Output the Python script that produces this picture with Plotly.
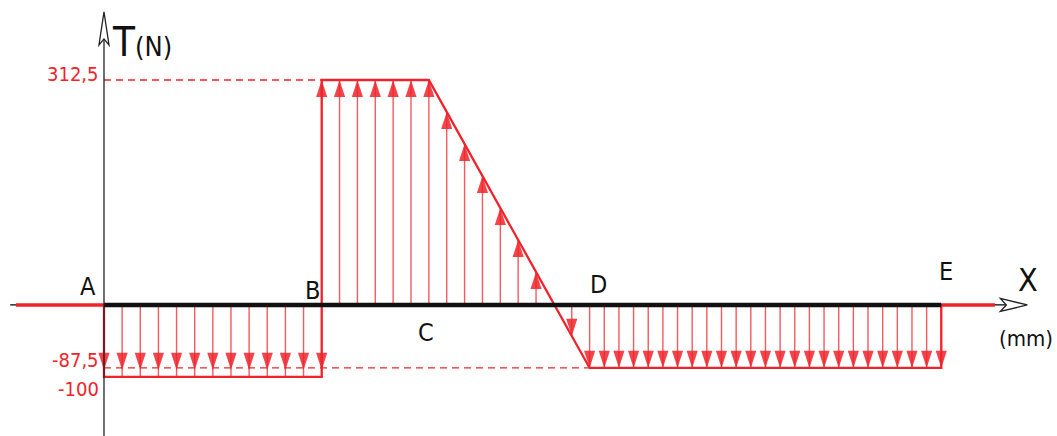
import numpy as np
import plotly.graph_objects as go

# stations along the beam (mm) and shear force T (N)
nodes = ["A", "B", "C", "D", "E"]
node_x = [0, 65, 97, 145, 250]
T_AB = -100
T_BC = 312.5
T_DE = -87.5

# value labels on the T axis
tick_vals = [312.5, -87.5, -100]
tick_text = ["312,5", "-87,5", "-100"]

# hatch arrows per section (ends included)
n_AB = 13
n_BC = 7
n_CD = 10
n_DE = 25

RED = "#f0232b"
FONT = "DejaVu Sans Condensed, Liberation Sans Narrow, sans-serif"

xA, xB, xC, xD, xE = node_x

# diagram outline
diag_x = [xA, xA, xB, xB, xC, xD, xE, xE]
diag_T = [0, T_AB, T_AB, T_BC, T_BC, T_DE, T_DE, 0]

# hatch arrows
ab_x = np.linspace(xA, xB, n_AB)
ab_T = np.full(n_AB, T_AB)
bc_x = np.linspace(xB, xC, n_BC)
bc_T = np.full(n_BC, T_BC)
cd_x = np.linspace(xC, xD, n_CD)[1:-1]
cd_T = np.interp(cd_x, [xC, xD], [T_BC, T_DE])
keep = np.abs(cd_T) > 20
cd_x, cd_T = cd_x[keep], cd_T[keep]
de_x = np.linspace(xD, xE, n_DE)
de_T = np.full(n_DE, T_DE)

arr_x = np.concatenate([ab_x, bc_x, cd_x, de_x])
arr_T = np.concatenate([ab_T, bc_T, cd_T, de_T])

shaft_x, shaft_y = [], []
for x, t in zip(arr_x, arr_T):
    shaft_x += [x, x, None]
    shaft_y += [0, t, None]

# axes extents (mm / N)
x_range = [-31.05, 284.55]
y_range = [-182.0, 423.6]
ax_left, red_left, red_right, x_tip = -28, -26.3, 266, 275.7
y_top = 407

fig = go.Figure()

# thin axis line
fig.add_trace(go.Scatter(x=[ax_left, x_tip - 3], y=[0, 0], mode="lines",
                         line=dict(color="black", width=1.2), hoverinfo="skip"))
# red extensions of the beam
for xs in ([red_left, xA], [xE, red_right]):
    fig.add_trace(go.Scatter(x=xs, y=[0, 0], mode="lines",
                             line=dict(color=RED, width=3.5), hoverinfo="skip"))

# dashed reference lines
fig.add_trace(go.Scatter(x=[xA, xB], y=[T_BC, T_BC], mode="lines",
                         line=dict(color=RED, width=1.3, dash="7px,5px"), hoverinfo="skip"))
fig.add_trace(go.Scatter(x=[xA, xD], y=[T_DE, T_DE], mode="lines",
                         line=dict(color=RED, width=1.3, dash="7px,5px"), hoverinfo="skip"))

# hatch shafts
fig.add_trace(go.Scatter(x=shaft_x, y=shaft_y, mode="lines",
                         line=dict(color="rgba(240,35,43,0.75)", width=1.4), hoverinfo="skip"))

# arrow heads
ang = np.where(arr_T > 0, 0, 180)
stand = np.concatenate([np.full(n_AB, 7), np.zeros(len(arr_x) - n_AB)])
fig.add_trace(go.Scatter(x=arr_x, y=arr_T, mode="markers",
                         marker=dict(symbol="arrow", size=18, angle=ang, standoff=stand,
                                     color="rgba(240,35,43,0.85)", line=dict(width=0)),
                         hoverinfo="skip"))

# diagram outline
fig.add_trace(go.Scatter(x=diag_x, y=diag_T, mode="lines",
                         line=dict(color=RED, width=2.3), hoverinfo="skip"))

# beam A-E
fig.add_trace(go.Scatter(x=[xA, xE], y=[0, 0], mode="lines",
                         line=dict(color="#111111", width=4.5), hoverinfo="skip"))

# T axis
fig.add_trace(go.Scatter(x=[0, 0], y=[y_range[0], y_top - 20], mode="lines",
                         line=dict(color="#222222", width=1.3), hoverinfo="skip"))

shapes = [
    dict(type="path", xref="x", yref="y", xsizemode="pixel", ysizemode="pixel",
         xanchor=0, yanchor=y_top, path="M0,0 L-5,-33 L0,-27 L5,-33 Z",
         line=dict(color="#222222", width=1.3), fillcolor="white"),
    dict(type="path", xref="x", yref="y", xsizemode="pixel", ysizemode="pixel",
         xanchor=x_tip, yanchor=0, path="M0,0 L-27,6.5 L-21,0 L-27,-6.5 Z",
         line=dict(color="#222222", width=1.3), fillcolor="white"),
]

annotations = []
node_shift = {"A": (-16, 18), "B": (-9, 14), "C": (-3, -28), "D": (9, 20), "E": (5, 33)}
for name, x in zip(nodes, node_x):
    dx, dy = node_shift[name]
    annotations.append(dict(x=x, y=0, text=name, showarrow=False, xshift=dx, yshift=dy,
                            font=dict(family=FONT, size=25, color="#111111")))

val_shift = {"312,5": 6, "-87,5": 8, "-100": -12}
for v, t in zip(tick_vals, tick_text):
    annotations.append(dict(x=0, y=v, text=t, showarrow=False, xanchor="right",
                            xshift=-3, yshift=val_shift[t],
                            font=dict(family=FONT, size=20, color=RED)))

annotations += [
    dict(x=0, y=365, text="T<span style='font-size:27px'>(N)</span>", showarrow=False,
         xanchor="left", xshift=6, font=dict(family=FONT, size=40, color="#111111")),
    dict(x=x_tip, y=0, text="X", showarrow=False, xshift=1, yshift=25,
         font=dict(family=FONT, size=32, color="#111111")),
    dict(x=x_tip, y=0, text="(mm)", showarrow=False, xshift=-1, yshift=-34,
         font=dict(family=FONT, size=22, color="#111111")),
]

fig.update_layout(
    width=1057, height=436,
    margin=dict(l=0, r=0, t=0, b=0),
    paper_bgcolor="white", plot_bgcolor="white",
    showlegend=False,
    xaxis=dict(range=x_range, visible=False, fixedrange=True),
    yaxis=dict(range=y_range, visible=False, fixedrange=True),
    shapes=shapes,
    annotations=annotations,
)

fig.write_html("out.html", config={"displayModeBar": False},
               post_script="document.body.style.margin='0px';")
